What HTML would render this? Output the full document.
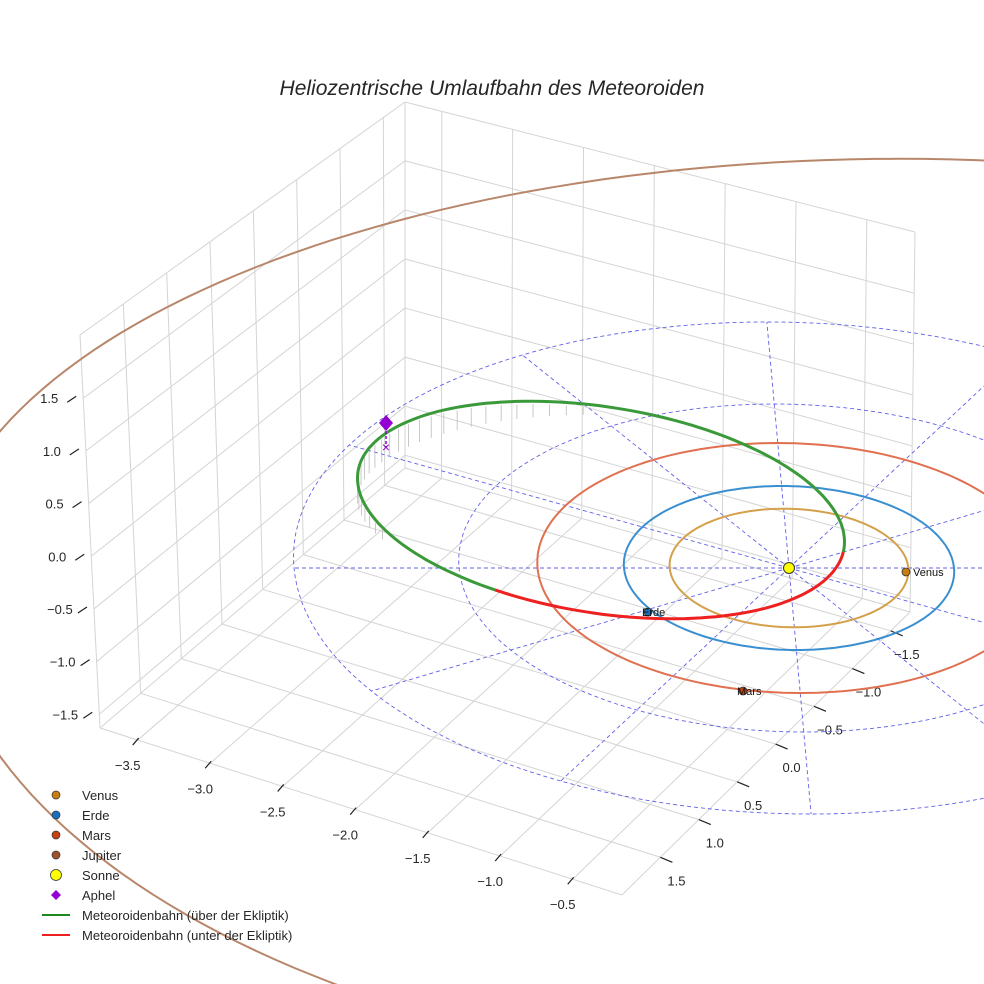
<!DOCTYPE html>
<html><head><meta charset="utf-8"><style>
html,body{margin:0;padding:0;background:#fff;overflow:hidden;width:984px;height:984px}
svg{display:block;font-family:"Liberation Sans",sans-serif;overflow:hidden}
</style></head><body>
<svg id="chart" width="984" height="984" viewBox="0 0 984 984">
<defs><clipPath id="frame"><rect x="0" y="0" width="984" height="984"/></clipPath></defs>
<text x="492" y="95" text-anchor="middle" font-size="21" font-style="italic" fill="#262626">Heliozentrische Umlaufbahn des Meteoroiden</text>
<g id="grid"></g>
<g id="plot" clip-path="url(#frame)"></g>
<g id="legend"></g>
</svg>
<script>
const zTicks=[1.5,1.0,0.5,0.0,-0.5,-1.0,-1.5];
const xTicks=[-3.5,-3.0,-2.5,-2.0,-1.5,-1.0,-0.5];
const yTicks=[-1.5,-1.0,-0.5,0.0,0.5,1.0,1.5];
const planetNames=["Venus","Erde","Mars","Jupiter"];
const planetRadii=[0.723,1.0,1.524,5.2];
const planetColors=["#d4a04a","#3a8fd0","#e07050","#b8866a"];
const gridCircles=[2,3];
const rayAngles=[0,30,60,90,120,150,180,210,240,270,300,330];

const NS="http://www.w3.org/2000/svg";
function mk(tag,attrs,parent){const e=document.createElementNS(NS,tag);for(const k in attrs)e.setAttribute(k,attrs[k]);parent.appendChild(e);return e;}
const grid=document.getElementById('grid'),plot=document.getElementById('plot'),leg=document.getElementById('legend');
function lerp(a,b,t){return [a[0]+(b[0]-a[0])*t,a[1]+(b[1]-a[1])*t];}
function quad(c,u,v){return lerp(lerp(c[0],c[1],u),lerp(c[3],c[2],u),v);}
const XMIN=-3.76,XMAX=-0.16,YMIN=-1.75,YMAX=2.0,ZMIN=-1.63,ZMAX=2.1;
function xu(x){return (x-XMIN)/(XMAX-XMIN);}
function yv(y){return (YMAX-y)/(YMAX-YMIN);}
function zv(z){return (z-ZMIN)/(ZMAX-ZMIN);}
const leftWall=[[100,728],[405,468],[405,102],[80,335]];
const backWall=[[405,468],[910,612],[915,232],[405,102]];
const floor=[[100,728],[622,895],[910,612],[405,468]];
function gl(a,b,name){const l=mk('line',{x1:a[0],y1:a[1],x2:b[0],y2:b[1],stroke:'#d4d4d4','stroke-width':1},grid);}
yTicks.forEach(y=>{const u=yv(y);gl(quad(leftWall,u,0),quad(leftWall,u,1),'left-wall-gridline');gl(quad(floor,0,u),quad(floor,1,u),'floor-gridline');});
zTicks.forEach(z=>{const v=zv(z);gl(quad(leftWall,0,v),quad(leftWall,1,v),'left-wall-gridline');gl(quad(backWall,0,v),quad(backWall,1,v),'back-wall-gridline');});
xTicks.forEach(x=>{const u=xu(x);gl(quad(backWall,u,0),quad(backWall,u,1),'back-wall-gridline');gl(quad(floor,u,0),quad(floor,u,1),'floor-gridline');});
[[floor[0],floor[1]],[floor[1],floor[2]],[floor[0],floor[3]],[leftWall[0],leftWall[3]],[leftWall[3],leftWall[2]],[backWall[3],backWall[2]],[backWall[1],backWall[2]],[leftWall[1],leftWall[2]],[floor[3],floor[2]]].forEach(e=>gl(e[0],e[1],'box-edge'));
function fmt(v){return v.toFixed(1).replace('-','\u2212');}
zTicks.forEach(z=>{const p=quad(leftWall,0,zv(z));
  const l=mk('line',{x1:p[0]-16,y1:p[1]+4,x2:p[0]-7,y2:p[1]-2,stroke:'#222','stroke-width':1.2},grid);
  const t=mk('text',{x:p[0]-34,y:p[1]+5,'text-anchor':'middle','font-size':13,fill:'#262626'},grid);t.textContent=fmt(z);});
xTicks.forEach(x=>{const p=lerp(floor[0],floor[1],xu(x));
  const l=mk('line',{x1:p[0]-5,y1:p[1]+5,x2:p[0]+1,y2:p[1]-2,stroke:'#222','stroke-width':1.2},grid);
  const t=mk('text',{x:p[0]-10,y:p[1]+30,'text-anchor':'middle','font-size':13,fill:'#262626'},grid);t.textContent=fmt(x);});
yTicks.forEach(y=>{const p=lerp(floor[1],floor[2],yv(y));
  const l=mk('line',{x1:p[0],y1:p[1],x2:p[0]+12,y2:p[1]+5,stroke:'#222','stroke-width':1.2},grid);
  const t=mk('text',{x:p[0]+16,y:p[1]+28,'text-anchor':'middle','font-size':13,fill:'#262626'},grid);t.textContent=fmt(y);});

const CX=789,CY=568,SX=165,SY=82;
function ecl(r,deg){const a=deg*Math.PI/180;let y=CY-r*SY*Math.sin(a);let x=CX+r*SX*Math.cos(a)+0.09*(y-CY);return [x,y];}
function ring(r,n){let d='';for(let i=0;i<=n;i++){const p=ecl(r,i*360/n);d+=(i?'L':'M')+p[0].toFixed(1)+' '+p[1].toFixed(1);}return d;}
gridCircles.forEach(r=>{const p=mk('path',{d:ring(r,180),fill:'none',stroke:'#6060e8','stroke-width':0.9,'stroke-dasharray':'4 3'},plot);});
rayAngles.forEach(a=>{const q=ecl(3,a);const l=mk('line',{x1:CX,y1:CY,x2:q[0],y2:q[1],stroke:'#6060e8','stroke-width':0.9,'stroke-dasharray':'4 3'},plot);});
planetRadii.forEach((r,i)=>{let d='';
  if(r>3){const jx=900,jy=580,jrx=r*185;for(let k=0;k<=240;k++){const a=k*1.5*Math.PI/180;const s=Math.sin(a);const ry=s>0?r*81:r*96;const x=jx+jrx*Math.cos(a);const y=jy-ry*s;d+=(k?'L':'M')+x.toFixed(1)+' '+y.toFixed(1);}}
  else d=ring(r,180);
  const p=mk('path',{d:d,fill:'none',stroke:planetColors[i],'stroke-width':2},plot);});
const mcx=601,mcy=510,mrx=246,mry=103,rot=9*Math.PI/180;
function mpt(t){const a=t*Math.PI/180;const x0=mrx*Math.cos(a),y0=mry*Math.sin(a);return [mcx+x0*Math.cos(rot)-y0*Math.sin(rot),mcy+x0*Math.sin(rot)+y0*Math.cos(rot)];}
for(let t=150;t<=262;t+=4){const p=mpt(t);const h=Math.max(0,24*Math.cos((t-205)*Math.PI/150))+2;const l=mk('line',{x1:p[0],y1:p[1]+3,x2:p[0],y2:p[1]+h,stroke:'#bbb','stroke-width':0.8},plot);}
let dg='',dr='';
for(let t=112;t<=362;t+=2){const p=mpt(t);dg+=(t===112?'M':'L')+p[0].toFixed(1)+' '+p[1].toFixed(1);}
for(let t=2;t<=112;t+=2){const p=mpt(t);dr+=(t===2?'M':'L')+p[0].toFixed(1)+' '+p[1].toFixed(1);}
const g=mk('path',{d:dg,fill:'none',stroke:'#3a9a3a','stroke-width':3},plot);
const rr=mk('path',{d:dr,fill:'none',stroke:'#ee2020','stroke-width':3},plot);
const ap=mk('path',{d:'M386 415 L393 423 L386 431 L379 423Z',fill:'#9400d3'},plot);
const apl=mk('line',{x1:386,y1:431,x2:386,y2:447,stroke:'#9400d3','stroke-width':1.5,'stroke-dasharray':'3 2'},plot);
const apx=mk('text',{x:386,y:452,'text-anchor':'middle','font-size':14,fill:'#9400d3'},plot);apx.textContent='×';
const sun=mk('circle',{cx:CX,cy:CY,r:5.5,fill:'#ffff00',stroke:'#333','stroke-width':1},plot);
const pos=[[906,572],[648,612],[743,691]];const pcol=['#c87f10','#1a70c0','#c84010'];
[0,1,2].forEach(i=>{const c=mk('circle',{cx:pos[i][0],cy:pos[i][1],r:4,fill:pcol[i],stroke:'#333','stroke-width':0.8},plot);
 const t=mk('text',{x:pos[i][0]+(i===0?7:-6),y:pos[i][1]+4,'font-size':11,fill:'#111'},plot);t.textContent=planetNames[i];});
const items=[['dot','#c87f10','Venus'],['dot','#1a70c0','Erde'],['dot','#c84010','Mars'],['dot','#a0522d','Jupiter'],['sun','#ffff00','Sonne'],['dia','#9400d3','Aphel'],['line','#1a8a1a','Meteoroidenbahn (über der Ekliptik)'],['line','#ee2020','Meteoroidenbahn (unter der Ekliptik)']];
items.forEach((it,i)=>{const y=795+i*20;
  let m;
  if(it[0]==='dot')m=mk('circle',{cx:56,cy:y,r:4,fill:it[1],stroke:'#333','stroke-width':0.7},leg);
  else if(it[0]==='sun')m=mk('circle',{cx:56,cy:y,r:5.5,fill:it[1],stroke:'#333','stroke-width':0.8},leg);
  else if(it[0]==='dia')m=mk('path',{d:`M56 ${y-5} L61 ${y} L56 ${y+5} L51 ${y}Z`,fill:it[1]},leg);
  else m=mk('line',{x1:42,y1:y,x2:70,y2:y,stroke:it[1],'stroke-width':2},leg);
  
  const t=mk('text',{x:82,y:y+5,'font-size':13,fill:'#262626'},leg);t.textContent=it[2];});
</script>
</body></html>
